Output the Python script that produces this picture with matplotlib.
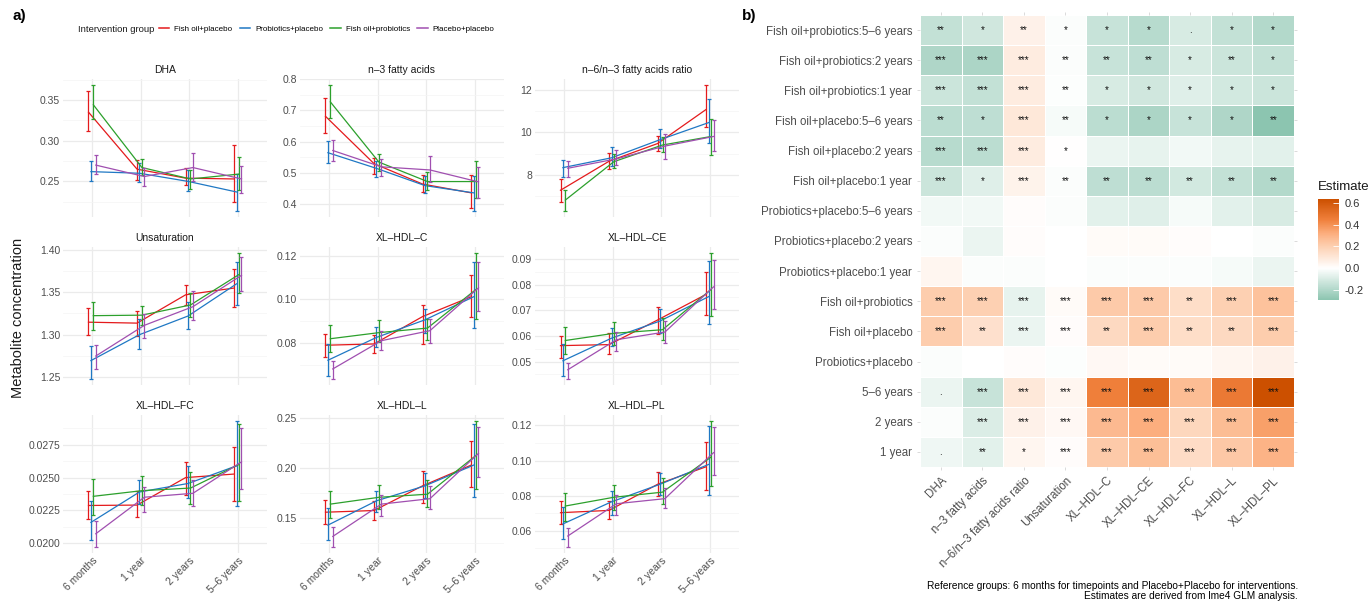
import numpy as np
import matplotlib
matplotlib.use("Agg")
import matplotlib.pyplot as plt
from matplotlib.colors import LinearSegmentedColormap, Normalize
from matplotlib.lines import Line2D
from matplotlib.ticker import MultipleLocator, FormatStrFormatter

plt.rcParams['font.family'] = ['Liberation Sans', 'DejaVu Sans']

# ---------------- datos panel a) ----------------
timepoints = ["6 months", "1 year", "2 years", "5–6 years"]
groups = ["Fish oil+placebo", "Probiotics+placebo", "Fish oil+probiotics", "Placebo+placebo"]
group_colors = ["#e41a1c", "#1f78c4", "#2ca02c", "#a04fb0"]

# filas = grupos (mismo orden que groups), columnas = timepoints
dha_mean = [[0.335, 0.265, 0.254, 0.253], [0.262, 0.260, 0.250, 0.237],
            [0.344, 0.267, 0.253, 0.259], [0.270, 0.256, 0.267, 0.253]]
dha_low = [[0.312, 0.252, 0.245, 0.225], [0.250, 0.249, 0.238, 0.214],
           [0.326, 0.258, 0.241, 0.239], [0.259, 0.244, 0.250, 0.236]]
dha_high = [[0.361, 0.276, 0.266, 0.295], [0.275, 0.272, 0.264, 0.259],
            [0.368, 0.278, 0.264, 0.280], [0.283, 0.266, 0.285, 0.269]]

n3_mean = [[0.681, 0.530, 0.465, 0.437], [0.565, 0.515, 0.460, 0.437],
           [0.727, 0.535, 0.473, 0.473], [0.572, 0.520, 0.510, 0.472]]
n3_low = [[0.627, 0.498, 0.440, 0.390], [0.533, 0.488, 0.436, 0.380],
          [0.675, 0.508, 0.445, 0.420], [0.540, 0.492, 0.470, 0.420]]
n3_high = [[0.739, 0.548, 0.495, 0.495], [0.601, 0.540, 0.490, 0.490],
           [0.780, 0.562, 0.505, 0.539], [0.605, 0.545, 0.553, 0.520]]

ratio_mean = [[7.28, 8.64, 9.47, 11.07], [8.34, 8.80, 9.65, 10.45],
              [6.82, 8.62, 9.40, 9.80], [8.31, 8.75, 9.35, 9.80]]
ratio_low = [[6.75, 8.27, 9.10, 10.25], [7.92, 8.40, 9.25, 9.50],
             [6.32, 8.30, 9.05, 8.95], [7.90, 8.45, 8.75, 9.10]]
ratio_high = [[7.80, 9.03, 9.80, 12.20], [8.70, 9.30, 10.15, 11.55],
              [7.31, 9.00, 9.78, 10.60], [8.66, 9.15, 9.90, 10.55]]

unsat_mean = [[1.3147, 1.3136, 1.347, 1.355], [1.2694, 1.300, 1.322, 1.360],
              [1.3224, 1.323, 1.335, 1.371], [1.2748, 1.311, 1.333, 1.370]]
unsat_low = [[1.299, 1.298, 1.335, 1.333], [1.248, 1.283, 1.307, 1.335],
             [1.306, 1.311, 1.321, 1.349], [1.260, 1.296, 1.317, 1.352]]
unsat_high = [[1.332, 1.328, 1.358, 1.378], [1.2868, 1.318, 1.338, 1.386],
              [1.339, 1.334, 1.349, 1.396], [1.2877, 1.324, 1.351, 1.392]]

c_mean = [[0.0789, 0.0795, 0.0921, 0.1012], [0.0720, 0.0825, 0.0906, 0.1012],
          [0.0819, 0.0847, 0.0868, 0.1046], [0.0680, 0.0810, 0.0856, 0.1053]]
c_low = [[0.0737, 0.0755, 0.0793, 0.0920], [0.0647, 0.0780, 0.0845, 0.0870],
         [0.0757, 0.0802, 0.0815, 0.0910], [0.0635, 0.0765, 0.0800, 0.0945]]
c_high = [[0.0842, 0.0838, 0.0976, 0.1110], [0.0795, 0.0875, 0.0955, 0.1170],
          [0.0880, 0.0905, 0.0910, 0.1212], [0.0715, 0.0855, 0.0910, 0.1170]]

ce_mean = [[0.0562, 0.0566, 0.0662, 0.0762], [0.0503, 0.0591, 0.0658, 0.0753],
           [0.0582, 0.0610, 0.0624, 0.0781], [0.0468, 0.0585, 0.0615, 0.0791]]
ce_low = [[0.0512, 0.0531, 0.0606, 0.0683], [0.0445, 0.0559, 0.0610, 0.0645],
          [0.0531, 0.0566, 0.0585, 0.0678], [0.0433, 0.0540, 0.0574, 0.0706]]
ce_high = [[0.0601, 0.0610, 0.0713, 0.0848], [0.0569, 0.0629, 0.0706, 0.0890],
           [0.0633, 0.0655, 0.0668, 0.0922], [0.0496, 0.0617, 0.0658, 0.0896]]

fc_mean = [[0.02287, 0.0229, 0.0250, 0.02527], [0.02158, 0.0239, 0.02455, 0.0259],
           [0.02357, 0.0240, 0.0242, 0.0260], [0.02071, 0.0235, 0.0238, 0.0262]]
fc_low = [[0.0218, 0.0220, 0.0237, 0.0232], [0.02021, 0.0230, 0.02345, 0.0228],
          [0.02215, 0.0229, 0.0230, 0.0232], [0.01972, 0.0224, 0.0228, 0.0241]]
fc_high = [[0.02399, 0.0240, 0.0262, 0.0273], [0.02320, 0.0248, 0.0259, 0.0293],
           [0.02486, 0.0251, 0.0254, 0.0291], [0.02166, 0.0243, 0.0248, 0.0288]]

l_mean = [[0.1561, 0.1578, 0.1825, 0.2032], [0.1432, 0.1675, 0.1825, 0.2032],
          [0.1642, 0.1710, 0.1741, 0.2129], [0.1319, 0.1642, 0.1696, 0.2149]]
l_low = [[0.1442, 0.1480, 0.1654, 0.1809], [0.1281, 0.1565, 0.1702, 0.1718],
         [0.1500, 0.1594, 0.1612, 0.1793], [0.1216, 0.1523, 0.1596, 0.1913]]
l_high = [[0.1684, 0.1669, 0.1968, 0.2275], [0.1604, 0.1774, 0.1952, 0.2440],
          [0.1774, 0.1829, 0.1880, 0.2470], [0.1410, 0.1733, 0.1825, 0.2414]]

pl_mean = [[0.0703, 0.0716, 0.0865, 0.0965], [0.0639, 0.0765, 0.0865, 0.0978],
           [0.0741, 0.0791, 0.0820, 0.1020], [0.0570, 0.0754, 0.0783, 0.1045]]
pl_low = [[0.0636, 0.0667, 0.0796, 0.0834], [0.0555, 0.0692, 0.0806, 0.0803],
          [0.0657, 0.0716, 0.0750, 0.0853], [0.0509, 0.0692, 0.0727, 0.0915]]
pl_high = [[0.0769, 0.0769, 0.0936, 0.1104], [0.0735, 0.0829, 0.0932, 0.1196],
           [0.0815, 0.0862, 0.0903, 0.1224], [0.0617, 0.0806, 0.0846, 0.1193]]

metrics = ["DHA", "n–3 fatty acids", "n–6/n–3 fatty acids ratio", "Unsaturation",
           "XL–HDL–C", "XL–HDL–CE", "XL–HDL–FC", "XL–HDL–L", "XL–HDL–PL"]

# ---------------- datos panel b) ----------------
terms = ["Fish oil+probiotics:5–6 years", "Fish oil+probiotics:2 years", "Fish oil+probiotics:1 year",
         "Fish oil+placebo:5–6 years", "Fish oil+placebo:2 years", "Fish oil+placebo:1 year",
         "Probiotics+placebo:5–6 years", "Probiotics+placebo:2 years", "Probiotics+placebo:1 year",
         "Fish oil+probiotics", "Fish oil+placebo", "Probiotics+placebo",
         "5–6 years", "2 years", "1 year"]

estimate = [
    [-0.15, -0.12, 0.06, -0.01, -0.14, -0.18, -0.10, -0.15, -0.19],
    [-0.20, -0.21, 0.08, -0.01, -0.14, -0.16, -0.10, -0.13, -0.15],
    [-0.13, -0.15, 0.08, -0.005, -0.10, -0.12, -0.08, -0.11, -0.13],
    [-0.17, -0.16, 0.10, -0.02, -0.17, -0.21, -0.14, -0.20, -0.29],
    [-0.18, -0.17, 0.08, 0.005, -0.05, -0.06, -0.03, -0.06, -0.07],
    [-0.13, -0.08, 0.05, -0.01, -0.16, -0.17, -0.11, -0.15, -0.19],
    [-0.03, -0.03, 0.01, -0.01, -0.07, -0.08, -0.02, -0.07, -0.10],
    [-0.01, -0.05, 0.01, 0.0, 0.02, 0.02, 0.01, 0.0, -0.01],
    [0.04, -0.01, -0.01, 0.0, -0.01, -0.01, -0.01, -0.02, -0.05],
    [0.21, 0.20, -0.06, 0.02, 0.22, 0.22, 0.14, 0.20, 0.25],
    [0.21, 0.13, -0.05, 0.01, 0.16, 0.21, 0.14, 0.16, 0.21],
    [-0.01, 0.0, 0.01, -0.005, 0.03, 0.02, 0.02, 0.04, 0.06],
    [-0.05, -0.14, 0.10, 0.04, 0.45, 0.55, 0.27, 0.47, 0.635],
    [-0.01, -0.09, 0.06, 0.03, 0.28, 0.32, 0.17, 0.27, 0.36],
    [-0.04, -0.07, 0.04, 0.01, 0.22, 0.26, 0.15, 0.23, 0.30],
]

signif = [
    ["**", "*", "**", "*", "*", "*", ".", "*", "*"],
    ["***", "***", "***", "**", "**", "**", "*", "**", "*"],
    ["***", "***", "***", "**", "*", "*", "*", "*", "*"],
    ["**", "*", "***", "**", "*", "*", "*", "*", "**"],
    ["***", "***", "***", "*", "", "", "", "", ""],
    ["***", "*", "***", "**", "**", "**", "**", "**", "**"],
    ["", "", "", "", "", "", "", "", ""],
    ["", "", "", "", "", "", "", "", ""],
    ["", "", "", "", "", "", "", "", ""],
    ["***", "***", "***", "***", "***", "***", "**", "***", "***"],
    ["***", "**", "***", "***", "**", "***", "**", "**", "***"],
    ["", "", "", "", "", "", "", "", ""],
    [".", "***", "***", "***", "***", "***", "***", "***", "***"],
    ["", "***", "***", "***", "***", "***", "***", "***", "***"],
    [".", "**", "*", "***", "***", "***", "***", "***", "***"],
]

W, H = 1370, 602
fig = plt.figure(figsize=(W / 100, H / 100), dpi=100)

# --- panel a) facetas ---
panels = [
    (dha_mean, dha_low, dha_high, 0.05, "%.2f"),
    (n3_mean, n3_low, n3_high, 0.1, "%.1f"),
    (ratio_mean, ratio_low, ratio_high, 2, "%d"),
    (unsat_mean, unsat_low, unsat_high, 0.05, "%.2f"),
    (c_mean, c_low, c_high, 0.02, "%.2f"),
    (ce_mean, ce_low, ce_high, 0.01, "%.2f"),
    (fc_mean, fc_low, fc_high, 0.0025, "%.4f"),
    (l_mean, l_low, l_high, 0.05, "%.2f"),
    (pl_mean, pl_low, pl_high, 0.02, "%.2f"),
]
col_left = [63, 300, 535]
col_w = 204
row_top = [79, 247, 415]
row_h = 138
dodge = [-0.075, -0.025, 0.025, 0.075]
x = np.arange(len(timepoints))

for i, (mean, low, high, step, fmt) in enumerate(panels):
    r, c = divmod(i, 3)
    ax = fig.add_axes([col_left[c] / W, 1 - (row_top[r] + row_h) / H, col_w / W, row_h / H])
    for g in range(len(groups)):
        m = np.array(mean[g])
        lo = np.array(low[g])
        hi = np.array(high[g])
        xs = x + dodge[g]
        ax.plot(xs, m, color=group_colors[g], lw=0.9)
        ax.errorbar(xs, m, yerr=[m - lo, hi - m], fmt='none', ecolor=group_colors[g],
                    elinewidth=0.9, capsize=1.2, capthick=0.9)
    ax.set_xlim(-0.6, len(timepoints) - 0.4)
    ax.margins(y=0.05)
    ax.yaxis.set_major_locator(MultipleLocator(step))
    ax.yaxis.set_minor_locator(MultipleLocator(step / 2))
    ax.yaxis.set_major_formatter(FormatStrFormatter(fmt))
    ax.set_xticks(x)
    ax.grid(which='major', color='#ebebeb', lw=0.9)
    ax.grid(which='minor', axis='y', color='#f4f4f4', lw=0.5)
    ax.set_axisbelow(True)
    for s in ax.spines.values():
        s.set_visible(False)
    ax.tick_params(which='both', length=0, labelsize=7.5, labelcolor='#4d4d4d', pad=2)
    ax.set_title(metrics[i], fontsize=7.5, color='#1a1a1a', pad=4)
    if r == 2:
        ax.set_xticklabels(timepoints, rotation=45, ha='right', rotation_mode='anchor')
    else:
        ax.set_xticklabels([])

fig.text(18 / W, 1 - 318 / H, "Metabolite concentration", rotation=90, ha='center', va='center',
         fontsize=10.5, color='#1a1a1a')

# leyenda
handles = [Line2D([], [], color=col, lw=1.1) for col in group_colors]
fig.legend(handles, groups, loc='center left', bbox_to_anchor=(159 / W, 1 - 29 / H), ncol=4,
           frameon=False, fontsize=5.8, handlelength=1.3, handletextpad=0.6, columnspacing=0.9,
           borderpad=0, borderaxespad=0)
fig.text(154 / W, 1 - 29 / H, "Intervention group", ha='right', va='center', fontsize=6.8,
         color='#1a1a1a')

fig.text(12 / W, 1 - 16 / H, "a)", fontsize=11, fontweight='bold', va='center')
fig.text(742 / W, 1 - 16 / H, "b)", fontsize=11, fontweight='bold', va='center')

# --- panel b) heatmap ---
est = np.array(estimate)
vmin, vmax = est.min(), est.max()
nodes = [(-0.29, (140, 197, 176)), (0.0, (255, 255, 255)), (0.2, (253, 208, 178)),
         (0.32, (252, 174, 126)), (0.445, (240, 128, 60)), (0.635, (204, 80, 0))]
cmap = LinearSegmentedColormap.from_list(
    "est", [((v - vmin) / (vmax - vmin), tuple(ch / 255 for ch in rgb)) for v, rgb in nodes])
norm = Normalize(vmin=vmin, vmax=vmax)

hx = fig.add_axes([920 / W, 1 - 467 / H, 374 / W, 452 / H])
mesh = hx.pcolormesh(est, cmap=cmap, norm=norm, edgecolors='white', linewidth=0.6)
hx.set_xlim(0, len(metrics))
hx.set_ylim(len(terms), 0)
for i in range(len(terms)):
    for j in range(len(metrics)):
        if signif[i][j]:
            hx.text(j + 0.5, i + 0.5, signif[i][j], ha='center', va='center', fontsize=7,
                    color='#111111')
hx.set_yticks(np.arange(len(terms)) + 0.5)
hx.set_yticklabels(terms, fontsize=8.3, color='#4d4d4d')
hx.set_xticks(np.arange(len(metrics)) + 0.5)
hx.set_xticklabels(metrics, fontsize=8.3, color='#4d4d4d', rotation=45, ha='right',
                   rotation_mode='anchor')
for s in hx.spines.values():
    s.set_visible(False)
hx.tick_params(top=True, right=True, length=2.5, width=0.5, color='#cccccc', pad=3)

# barra de color
cax = fig.add_axes([1318 / W, 1 - 300 / H, 21 / W, 101 / H])
cb = fig.colorbar(mesh, cax=cax, ticks=[-0.2, 0.0, 0.2, 0.4, 0.6])
cb.outline.set_visible(False)
cb.ax.yaxis.set_major_formatter(FormatStrFormatter("%.1f"))
cb.ax.tick_params(labelsize=8, labelcolor='#333333', length=4, width=0.6, color='white',
                  direction='in', pad=4)
fig.text(1318 / W, 1 - 187 / H, "Estimate", fontsize=9.5, va='center', color='#1a1a1a')

fig.text(1298 / W, 1 - 591 / H,
         "Reference groups: 6 months for timepoints and Placebo+Placebo for interventions.\n"
         "Estimates are derived from lme4 GLM analysis.",
         ha='right', va='center', multialignment='right', fontsize=7.3, color='black',
         linespacing=1.0)

plt.savefig("out.png", dpi=100)
plt.close()
